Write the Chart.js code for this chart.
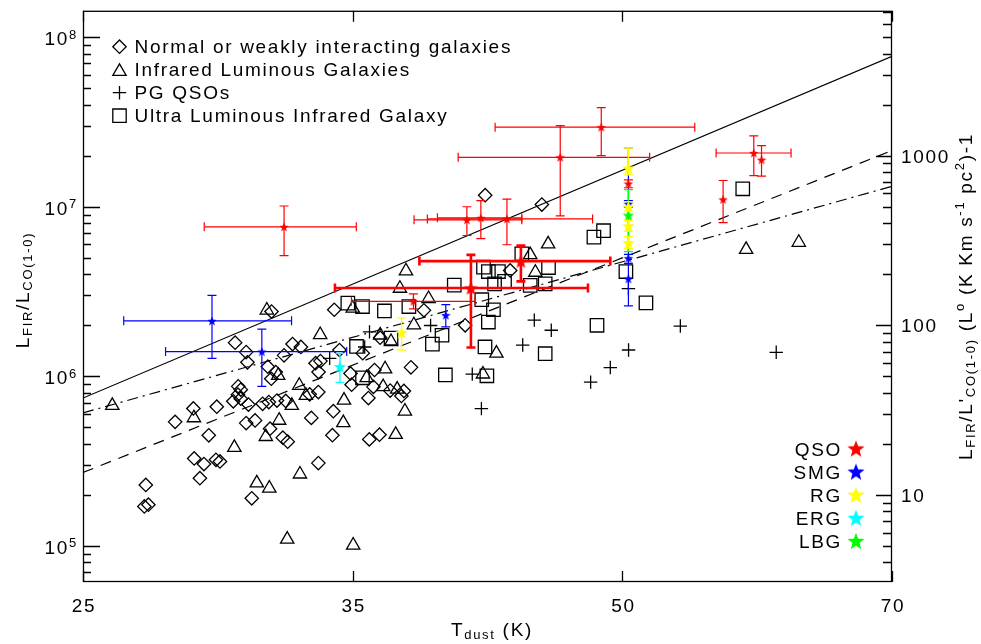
<!DOCTYPE html>
<html>
<head>
<meta charset="utf-8">
<script src="https://cdn.jsdelivr.net/npm/chart.js@4"></script>
<style>
  html, body { margin: 0; padding: 0; background: #fff; }
</style>
</head>
<body>
<canvas id="c" width="981" height="644"></canvas>
<script>
// ---- data: T_dust (K) and L_FIR / L_CO(1-0) ----
const normalT = [31.78, 34.42, 38.58, 41.71, 44.83, 43.06, 40.66, 30.34, 30.77, 30.82,
  32.64, 32.99, 32.29, 31.63, 31.95, 31.77, 33.61, 33.82, 33.74, 34.65,
  35.69, 35.14, 35.19, 36.23, 37.95, 36.49, 30.46, 30.56, 30.45, 30.56,
  30.27, 30.86, 31.42, 31.67, 32.00, 32.36, 29.64, 28.77, 28.11, 30.77,
  31.12, 31.72, 32.24, 32.44, 29.34, 28.80, 29.16, 29.61, 29.76, 29.01,
  27.08, 27.03, 27.17, 30.99, 33.73, 33.43, 34.38, 33.73, 33.36, 34.34,
  35.99, 36.46, 35.95, 36.18, 36.96, 37.49, 37.61];
const normalL = [2.41e6, 2.47e6, 2.45e6, 1.17e7, 1.03e7, 4.21e6, 2.0e6, 1.58e6, 1.39e6, 1.21e6,
  1.55e6, 1.49e6, 1.33e6, 1.14e6, 1.06e6, 9.68e5, 1.195e6, 1.23e6, 1.06e6, 1.43e6,
  1.37e6, 1.04e6, 8.93e5, 1.09e6, 1.13e6, 1.69e6, 8.73e5, 8.35e5, 7.80e5, 7.39e5,
  7.13e5, 6.82e5, 6.89e5, 7.05e5, 7.20e5, 7.16e5, 6.62e5, 6.47e5, 5.39e5, 5.30e5,
  5.50e5, 4.91e5, 4.35e5, 4.12e5, 4.49e5, 3.28e5, 3.04e5, 3.22e5, 3.15e5, 2.51e5,
  2.29e5, 1.71e5, 1.75e5, 1.91e5, 3.08e5, 5.69e5, 6.23e5, 8.08e5, 7.83e5, 4.50e5,
  4.25e5, 4.53e5, 7.45e5, 8.67e5, 8.24e5, 7.66e5, 8.20e5];

const lirgT = [25.95, 28.79, 31.59, 33.81, 30.31, 31.19, 31.69, 32.42, 35.26, 32.95,
  32.09, 31.55, 32.05, 32.61, 32.92, 33.20, 34.85, 34.82, 37.22, 37.66,
  36.72, 35.87, 36.63, 37.29, 36.49, 37.00, 38.09, 35.24, 42.31, 41.59,
  37.71, 37.42, 38.81, 45.19, 44.46, 44.17, 58.14, 62.17];
const lirgL = [6.73e5, 5.69e5, 2.455e6, 1.76e6, 3.80e5, 2.35e5, 2.19e5, 1.095e5, 1.01e5, 2.65e5,
  5.50e5, 4.41e5, 1.012e6, 6.73e5, 8.84e5, 7.70e5, 7.22e5, 5.32e5, 4.54e5, 6.23e5,
  1.105e6, 9.81e5, 8.67e5, 8.38e5, 1.75e6, 1.60e6, 2.01e6, 2.52e6, 1.367e6, 1.03e6,
  4.18e6, 3.30e6, 2.87e6, 6.03e6, 4.10e6, 5.21e6, 5.59e6, 6.16e6];

const pgT = [36.0, 35.78, 34.22, 38.91, 41.03, 41.51, 43.75, 44.4, 45.37, 50.06,
  48.91, 47.70, 53.47, 60.41, 50.05];
const pgL = [1.83e6, 1.49e6, 1.278e6, 1.995e6, 1.03e6, 6.45e5, 1.53e6, 2.145e6, 1.87e6, 1.43e6,
  1.127e6, 9.24e5, 1.98e6, 1.386e6, 3.29e6];

const ulirgT = [35.02, 35.68, 36.69, 37.85, 40.10, 41.53, 42.15, 41.88, 41.62, 41.88,
  42.42, 42.75, 42.21, 43.70, 44.17, 45.02, 45.21, 47.90, 48.49, 49.89,
  51.18, 57.89, 48.09, 45.02, 41.80, 39.65, 39.0, 39.48, 41.70, 35.68,
  35.41, 37.0];
const ulirgL = [2.70e6, 2.58e6, 2.43e6, 2.58e6, 3.45e6, 2.83e6, 2.47e6, 2.09e6, 4.40e6, 4.15e6,
  4.15e6, 3.63e6, 3.51e6, 5.27e6, 3.44e6, 3.51e6, 4.38e6, 6.62e6, 7.22e6, 4.15e6,
  2.71e6, 1.276e7, 2.0e6, 1.36e6, 1.008e6, 1.019e6, 1.548e6, 1.747e6, 1.49e6, 9.81e5,
  1.50e6, 1.68e6];

// high-z samples with error bars (null = no T error)
const qsoT    = [32.29, 40.75, 41.48, 42.88, 45.89, 48.35, 38.07, 58.71, 59.29, 56.46, 50.05];
const qsoL    = [7.61e6, 8.37e6, 8.60e6, 8.48e6, 1.957e7, 2.944e7, 2.77e6, 2.074e7, 1.894e7, 1.105e7, 1.371e7];
const qsoTlo  = [29.17, 38.10, 39.25, 38.75, 40.30, 42.24, 35.18, 55.96, null, null, null];
const qsoThi  = [35.40, 43.70, 43.70, 47.82, 51.42, 54.46, 41.18, 61.56, null, null, null];
const qsoLlo  = [5.15e6, 6.77e6, 6.48e6, 5.97e6, 8.83e6, 2.0e7, 2.50e6, 1.527e7, 1.515e7, 8.07e6, 1.294e7];
const qsoLhi  = [1.01e7, 1.0e7, 1.086e7, 1.11e7, 3.01e7, 3.84e7, 3.06e6, 2.62e7, 2.29e7, 1.428e7, 1.441e7];

const qsoBT   = [43.65, 40.96];
const qsoBL   = [4.78e6, 3.32e6];
const qsoBTlo = [38.36, 34.45];
const qsoBThi = [48.91, 47.54];
const qsoBLlo = [3.63e6, 1.48e6];
const qsoBLhi = [5.90e6, 5.20e6];

const smgT   = [29.46, 31.39, 39.67, 50.05, 50.05, 50.05];
const smgL   = [2.125e6, 1.399e6, 2.295e6, 1.043e7, 4.97e6, 3.76e6];
const smgTlo = [26.33, 27.77, null, null, null, null];
const smgThi = [32.60, 34.97, null, null, null, null];
const smgLlo = [1.278e6, 8.73e5, 1.96e6, 9.95e6, 4.64e6, 2.60e6];
const smgLhi = [3.0e6, 1.90e6, 2.65e6, 1.086e7, 5.24e6, 2.22e7];

const rgT   = [37.50, 50.05, 50.05, 50.05, 50.05];
const rgL   = [1.815e6, 1.694e7, 1.0e7, 7.72e6, 6.16e6];
const rgLlo = [1.43e6, 1.54e7, 9.42e6, 7.15e6, 5.68e6];
const rgLhi = [2.21e6, 2.22e7, 1.071e7, 8.29e6, 6.68e6];

const ergT = [34.67], ergL = [1.143e6], ergLlo = [9.21e5], ergLhi = [1.367e6];
const lbgT = [50.05], lbgL = [8.91e6], lbgLlo = [5.44e6], lbgLhi = [1.26e7];

// relations
const fitT = [25, 70];
const solidL = [7.45e5, 7.7e7];
const dashL = [2.71e5, 2.145e7];
const dashDotL = [6.09e5, 1.32e7];

// axes
const xTickVals = [25, 35.24, 49.67, 70];
const xTickLabels = ['25', '35', '50', '70'];
const yDecades = [5, 6, 7, 8];
const y2Labels = [10, 100, 1000];
const coFactor = 5e-5;   // L_FIR/L'_CO per L_FIR/L_CO
const legendLabels = ['Normal or weakly interacting galaxies', 'Infrared Luminous Galaxies',
  'PG QSOs', 'Ultra Luminous Infrared Galaxy'];
const starClasses = ['QSO', 'SMG', 'RG', 'ERG', 'LBG'];
const starColors = ['#ff0000', '#0000ff', '#ffff00', '#00ffff', '#00ff00'];

const FONT = '"Liberation Sans", Arial, sans-serif';

function starImg(color, size) {
  const c = document.createElement('canvas');
  c.width = c.height = size;
  const g = c.getContext('2d');
  const R = size / 2, r = R * 0.42, cx = size / 2, cy = size / 2 + R * 0.1;
  g.beginPath();
  for (let k = 0; k < 10; k++) {
    const a = -Math.PI / 2 + k * Math.PI / 5, rr = k % 2 ? r : R;
    g.lineTo(cx + rr * Math.cos(a), cy + rr * Math.sin(a));
  }
  g.closePath();
  g.fillStyle = color;
  g.fill();
  return c;
}

const pts = (T, L) => T.map((t, i) => ({x: t, y: L[i]}));
const nulls = n => new Array(n).fill(null);
const hollow = {pointBackgroundColor: 'rgba(0,0,0,0)', pointBorderColor: '#000', pointBorderWidth: 1.3, showLine: false};

function starSet(label, T, L, err, color, size, w) {
  return {label, data: pts(T, L), pointStyle: starImg(color, size), pointRadius: size / 2,
    showLine: false, err, errColor: color, errWidth: w};
}

const datasets = [
  starSet('RG', rgT, rgL, {tlo: nulls(5), thi: nulls(5), llo: rgLlo, lhi: rgLhi}, '#ffff00', 13, 1.3),
  starSet('QSO bold', qsoBT, qsoBL, {tlo: qsoBTlo, thi: qsoBThi, llo: qsoBLlo, lhi: qsoBLhi}, '#ff0000', 15, 2.6),
  starSet('QSO', qsoT, qsoL, {tlo: qsoTlo, thi: qsoThi, llo: qsoLlo, lhi: qsoLhi}, '#ff0000', 10, 1.2),
  starSet('LBG', lbgT, lbgL, {tlo: [null], thi: [null], llo: lbgLlo, lhi: lbgLhi}, '#00ff00', 12, 1.3),
  starSet('ERG', ergT, ergL, {tlo: [null], thi: [null], llo: ergLlo, lhi: ergLhi}, '#00ffff', 13, 1.3),
  starSet('SMG', smgT, smgL, {tlo: smgTlo, thi: smgThi, llo: smgLlo, lhi: smgLhi}, '#0000ff', 10, 1.2),
  {label: 'PG QSOs', data: pts(pgT, pgL), pointStyle: 'cross', pointRadius: 6.7, ...hollow},
  {label: 'ULIRG', data: pts(ulirgT, ulirgL), pointStyle: 'rect', pointRadius: 9.5, ...hollow},
  {label: 'LIRG', data: pts(lirgT, lirgL), pointStyle: 'triangle', pointRadius: 7.7, ...hollow},
  {label: 'Normal', data: pts(normalT, normalL), pointStyle: 'rectRot', pointRadius: 6.7, ...hollow},
  {label: 'solid', data: pts(fitT, solidL), showLine: true, borderColor: '#000', borderWidth: 1.2, pointRadius: 0},
  {label: 'dash', data: pts(fitT, dashL), showLine: true, borderColor: '#000', borderWidth: 1.2, borderDash: [11, 8], pointRadius: 0},
  {label: 'dashdot', data: pts(fitT, dashDotL), showLine: true, borderColor: '#000', borderWidth: 1.2, borderDash: [11, 5, 2, 5], pointRadius: 0}
];

function rich(ctx, segs) {
  let w = 0;
  segs.forEach(s => { ctx.font = s.size + 'px ' + FONT; w += ctx.measureText(s.t).width; });
  return w;
}
function drawRich(ctx, segs, x, y) {
  segs.forEach(s => {
    ctx.font = s.size + 'px ' + FONT;
    ctx.fillText(s.t, x, y + (s.dy || 0));
    x += ctx.measureText(s.t).width;
  });
}

const errorBars = {
  id: 'errorBars',
  beforeDatasetDraw(chart, args) {
    const ds = chart.data.datasets[args.index];
    if (!ds.err) return;
    const {ctx, scales: {x, y}} = chart, e = ds.err, cap = 4.5;
    ctx.save();
    ctx.strokeStyle = ds.errColor;
    ctx.lineWidth = ds.errWidth;
    ds.data.forEach((p, i) => {
      const px = x.getPixelForValue(p.x), py = y.getPixelForValue(p.y);
      ctx.beginPath();
      if (e.tlo[i] != null) {
        const a = x.getPixelForValue(e.tlo[i]), b = x.getPixelForValue(e.thi[i]);
        ctx.moveTo(a, py); ctx.lineTo(b, py);
        ctx.moveTo(a, py - cap); ctx.lineTo(a, py + cap);
        ctx.moveTo(b, py - cap); ctx.lineTo(b, py + cap);
      }
      const c = y.getPixelForValue(e.llo[i]), d = y.getPixelForValue(e.lhi[i]);
      ctx.moveTo(px, c); ctx.lineTo(px, d);
      ctx.moveTo(px - cap, c); ctx.lineTo(px + cap, c);
      ctx.moveTo(px - cap, d); ctx.lineTo(px + cap, d);
      ctx.stroke();
    });
    ctx.restore();
  }
};

const decor = {
  id: 'decor',
  afterDraw(chart) {
    const {ctx, chartArea: A, scales: {x, y}} = chart;
    ctx.save();
    ctx.strokeStyle = '#000';
    ctx.fillStyle = '#000';
    ctx.lineWidth = 1.3;
    ctx.strokeRect(A.left + 0.5, A.top + 0.5, A.right - A.left - 1, A.bottom - A.top - 1);
    ctx.letterSpacing = '1.7px';

    // x ticks, top and bottom
    ctx.beginPath();
    xTickVals.forEach(v => {
      const px = Math.round(x.getPixelForValue(v)) + 0.5;
      ctx.moveTo(px, A.bottom); ctx.lineTo(px, A.bottom - 11);
      ctx.moveTo(px, A.top); ctx.lineTo(px, A.top + 11);
    });
    // left y ticks
    for (let n = 4; n <= 8; n++) {
      for (let m = 1; m <= 9; m++) {
        const v = m * Math.pow(10, n);
        if (v < y.min || v > y.max) continue;
        const py = Math.round(y.getPixelForValue(v)) + 0.5;
        ctx.moveTo(A.left, py); ctx.lineTo(A.left + (m === 1 ? 17 : 8), py);
      }
    }
    // right y ticks
    for (let n = 0; n <= 3; n++) {
      for (let m = 1; m <= 9; m++) {
        const v = m * Math.pow(10, n);
        if (v < y.min * coFactor || v > y.max * coFactor) continue;
        const py = Math.round(y.getPixelForValue(v / coFactor)) + 0.5;
        ctx.moveTo(A.right, py); ctx.lineTo(A.right - (m === 1 ? 16 : 9), py);
      }
    }
    ctx.stroke();

    // tick labels
    ctx.textBaseline = 'alphabetic';
    ctx.font = '19px ' + FONT;
    ctx.textAlign = 'center';
    xTickVals.forEach((v, i) => ctx.fillText(xTickLabels[i], x.getPixelForValue(v) + 1, A.bottom + 30));
    ctx.textAlign = 'left';
    yDecades.forEach(n => {
      const py = y.getPixelForValue(Math.pow(10, n));
      const segs = [{t: '10', size: 19, dy: 8}, {t: String(n), size: 13, dy: 1.5}];
      drawRich(ctx, segs, 78 - rich(ctx, segs), py);
    });
    y2Labels.forEach(v => {
      const py = y.getPixelForValue(v / coFactor);
      ctx.font = '19px ' + FONT;
      ctx.fillText(String(v), A.right + 9, py + 7);
    });

    // axis titles
    const xt = [{t: 'T', size: 19}, {t: 'dust', size: 13, dy: 2.5}, {t: ' (K)', size: 19}];
    drawRich(ctx, xt, 492 - rich(ctx, xt) / 2, 636);

    const lt = [{t: 'L', size: 19}, {t: 'FIR', size: 13, dy: 3}, {t: '/L', size: 19}, {t: 'CO(1-0)', size: 13, dy: 3}];
    ctx.save();
    ctx.translate(28.5, 290);
    ctx.rotate(-Math.PI / 2);
    drawRich(ctx, lt, -rich(ctx, lt) / 2, 0);
    ctx.restore();

    const rt = [{t: 'L', size: 19}, {t: 'FIR', size: 13, dy: 3}, {t: "/L'", size: 19}, {t: 'CO(1-0)', size: 13, dy: 3},
      {t: ' (L', size: 19}, {t: 'o', size: 13, dy: -8}, {t: ' (K Km s', size: 19}, {t: '-1', size: 13, dy: -8},
      {t: ' pc', size: 19}, {t: '2', size: 13, dy: -8}, {t: ')-1', size: 19}];
    ctx.save();
    ctx.translate(972, 296.5);
    ctx.rotate(-Math.PI / 2);
    drawRich(ctx, rt, -rich(ctx, rt) / 2, 0);
    ctx.restore();

    // legend, top left
    const lx = 119.5;
    ctx.lineWidth = 1.3;
    legendLabels.forEach((t, i) => {
      const cy = 46.7 + i * 23;
      ctx.beginPath();
      if (i === 0) {
        ctx.moveTo(lx - 6.7, cy); ctx.lineTo(lx, cy - 6.7); ctx.lineTo(lx + 6.7, cy); ctx.lineTo(lx, cy + 6.7); ctx.closePath();
      } else if (i === 1) {
        const r = 7.7, c = cy + 1.9;
        ctx.moveTo(lx, c - r); ctx.lineTo(lx + r * 0.866, c + r / 2); ctx.lineTo(lx - r * 0.866, c + r / 2); ctx.closePath();
      } else if (i === 2) {
        ctx.moveTo(lx - 6.7, cy); ctx.lineTo(lx + 6.7, cy); ctx.moveTo(lx, cy - 6.7); ctx.lineTo(lx, cy + 6.7);
      } else {
        ctx.rect(lx - 6.7, cy - 6.7, 13.4, 13.4);
      }
      ctx.stroke();
      ctx.font = '19px ' + FONT;
      ctx.fillText(t, 134.5, cy + 6.7);
    });

    // legend, bottom right
    ctx.textAlign = 'right';
    starClasses.forEach((t, i) => {
      const by = 456 + i * 23.1;
      ctx.font = '19px ' + FONT;
      ctx.fillText(t, 842, by);
      const img = starImg(starColors[i], 18);
      ctx.drawImage(img, 856 - 9, by - 7.5 - 9);
    });
    ctx.restore();
  }
};

new Chart(document.getElementById('c'), {
  type: 'scatter',
  data: {datasets},
  options: {
    responsive: false,
    animation: false,
    events: [],
    layout: {padding: {left: 83, right: 89, top: 7, bottom: 62}},
    scales: {
      x: {type: 'logarithmic', min: 25, max: 70, display: false},
      y: {type: 'logarithmic', min: 6.13e4, max: 1.43e8, display: false}
    },
    plugins: {legend: {display: false}, tooltip: {enabled: false}}
  },
  plugins: [errorBars, decor]
});
</script>
</body>
</html>
